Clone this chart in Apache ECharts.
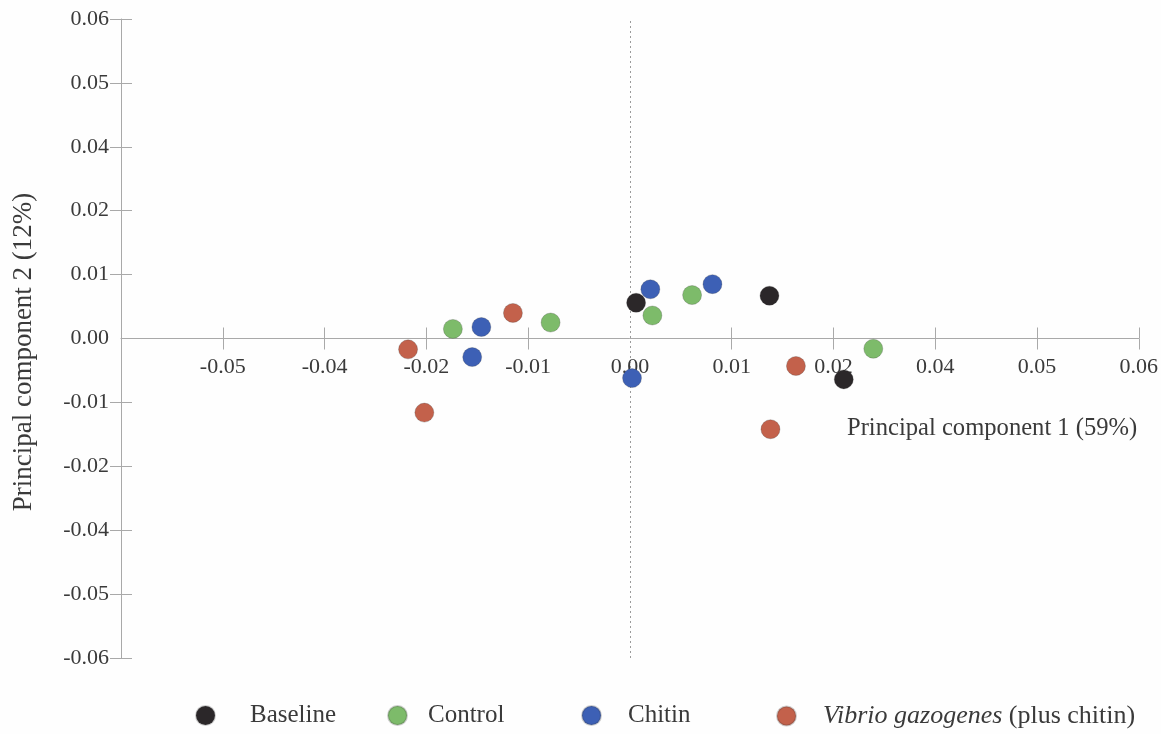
<!DOCTYPE html>
<html>
<head>
<meta charset="utf-8">
<script src="https://cdn.jsdelivr.net/npm/echarts@6/dist/echarts.min.js"></script>
<style>
  html, body { margin: 0; padding: 0; background: #fefefe; }
  #chart { width: 1161px; height: 734px; }
</style>
</head>
<body>
<div id="chart"></div>
<script>
// PCA scores, one point per sample, in axis units (one tick step = 0.01)
const baselinePts = [[0.0006, 0.0056], [0.0137, 0.0067], [0.0210, -0.0064]];
const controlPts = [[-0.0174, 0.0015], [-0.0078, 0.0025], [0.0022, 0.0036], [0.0061, 0.0068], [0.0239, -0.0016]];
const chitinPts = [[-0.0146, 0.0018], [-0.0155, -0.0029], [0.0020, 0.0077], [0.0081, 0.0085], [0.0002, -0.0062]];
const vibrioPts = [[-0.0218, -0.0017], [-0.0115, 0.0040], [-0.0202, -0.0116], [0.0163, -0.0043], [0.0138, -0.0142]];

const groupNames = ['Baseline', 'Control', 'Chitin', 'Vibrio gazogenes (plus chitin)'];
const groupColors = ['#2b2729', '#7dbb6a', '#3d60b5', '#c3614b'];

// printed tick labels, from the low end of each axis to the high end
const xTickLabels = ['', '-0.05', '-0.04', '-0.02', '-0.01', '0.00', '0.01', '0.02', '0.04', '0.05', '0.06'];
const yTickLabels = ['-0.06', '-0.05', '-0.04', '-0.02', '-0.01', '0.00', '0.01', '0.02', '0.04', '0.05', '0.06'];

const xTitle = 'Principal component 1 (59%)';
const yTitle = 'Principal component 2 (12%)';

const FONT = '"Liberation Serif", "DejaVu Serif", serif';
const AXIS_GRAY = '#a9a9a9';
const TEXT = '#3a3a3a';

const tickIndex = v => Math.round(v / 0.01) + 5;
const xFmt = v => xTickLabels[tickIndex(v)] || '';
const yFmt = v => yTickLabels[tickIndex(v)] || '';

const xTickVals = [-0.04, -0.03, -0.02, -0.01, 0.01, 0.02, 0.03, 0.04, 0.05];
const xLabelVals = [-0.04, -0.03, -0.02, -0.01, 0, 0.01, 0.02, 0.03, 0.04, 0.05];
const yTickVals = [-0.05, -0.04, -0.03, -0.02, -0.01, 0.01, 0.02, 0.03, 0.04, 0.05];
const yLabelVals = [-0.05, -0.04, -0.03, -0.02, -0.01, 0, 0.01, 0.02, 0.03, 0.04, 0.05];

const PLOT = { left: 121, right: 22, top: 19, bottom: 76 };
const plotH = 734 - PLOT.top - PLOT.bottom;

// Grid 0 holds the points and the vertical axis; grid 1 covers the upper half
// only, so its bottom edge is the PC2 = 0 line where the horizontal axis sits.
const grids = [
  { left: PLOT.left, right: PLOT.right, top: PLOT.top, bottom: PLOT.bottom },
  { left: PLOT.left, right: PLOT.right, top: PLOT.top, bottom: PLOT.bottom + plotH / 2 }
];

// the visible axes are doubled: one copy draws the outward half of each tick, the other the inward half
function xAxisDef(primary) {
  return {
    type: 'value', gridIndex: 1, min: -0.05, max: 0.05, interval: 0.01,
    position: 'bottom',
    axisLine: { show: primary, onZero: false, lineStyle: { color: AXIS_GRAY, width: 1 } },
    axisTick: { show: true, inside: !primary, length: 11, customValues: xTickVals, lineStyle: { color: AXIS_GRAY } },
    axisLabel: primary ? {
      show: true, margin: 18, customValues: xLabelVals, formatter: xFmt,
      fontFamily: FONT, fontSize: 22, color: TEXT
    } : { show: false },
    splitLine: { show: false }
  };
}

function yAxisDef(primary) {
  return {
    type: 'value', gridIndex: 0, min: -0.05, max: 0.05, interval: 0.01,
    position: 'left',
    axisLine: { show: primary, onZero: false, lineStyle: { color: AXIS_GRAY, width: 1 } },
    axisTick: { show: true, inside: !primary, length: 11, customValues: yTickVals, lineStyle: { color: AXIS_GRAY } },
    axisLabel: primary ? {
      show: true, margin: 12, customValues: yLabelVals, formatter: yFmt,
      fontFamily: FONT, fontSize: 22, color: TEXT
    } : { show: false },
    splitLine: { show: false }
  };
}

const hiddenAxis = gridIndex => ({
  type: 'value', gridIndex: gridIndex, min: -0.05, max: 0.05, show: false
});

const allSets = [baselinePts, controlPts, chitinPts, vibrioPts];
const series = allSets.map((pts, i) => ({
  name: groupNames[i],
  type: 'scatter',
  xAxisIndex: 0, yAxisIndex: 0,
  data: pts,
  symbol: 'circle',
  symbolSize: 19,
  itemStyle: { color: groupColors[i], borderColor: 'rgba(60,60,60,0.25)', borderWidth: 1, opacity: 1 },
  z: 5
}));

// dotted vertical reference line at PC1 = 0
series.push({
  type: 'line', data: [], xAxisIndex: 0, yAxisIndex: 0,
  markLine: {
    silent: true, symbol: ['none', 'none'], label: { show: false },
    lineStyle: { color: '#9a9a9a', type: [2, 3], width: 1 },
    data: [{ xAxis: 0 }]
  },
  z: 1
});

const legendLefts = [190, 382, 576, 771];
const legendPads = [30, 16, 22, 22];
const legendSizes = [25, 25, 25, 26];
const legends = groupNames.map((n, i) => ({
  data: [n],
  left: legendLefts[i],
  top: 698,
  icon: 'circle',
  itemWidth: 19, itemHeight: 19,
  itemGap: 0,
  selectedMode: false,
  formatter: name => name.startsWith('Vibrio gazogenes')
    ? '{i|Vibrio gazogenes} (plus chitin)' : name,
  textStyle: {
    fontFamily: FONT, fontSize: legendSizes[i], color: TEXT,
    padding: [0, 0, 0, legendPads[i]],
    rich: { i: { fontStyle: 'italic', fontFamily: FONT, fontSize: legendSizes[i], color: TEXT } }
  }
}));

const chart = echarts.init(document.getElementById('chart'), null, { renderer: 'canvas' });
chart.setOption({
  backgroundColor: '#fefefe',
  animation: false,
  grid: grids,
  xAxis: [hiddenAxis(0), xAxisDef(true), xAxisDef(false)],
  yAxis: [yAxisDef(true), yAxisDef(false), hiddenAxis(1)],
  legend: legends,
  graphic: [
    {
      type: 'text', left: 847, top: 416,
      style: { text: xTitle, fontFamily: FONT, fontSize: 24.6, fill: TEXT }
    },
    {
      type: 'text', x: 24, y: 352, rotation: Math.PI / 2,
      style: { text: yTitle, fontFamily: FONT, fontSize: 27, fill: TEXT, align: 'center', verticalAlign: 'middle' }
    }
  ],
  series: series
});
</script>
</body>
</html>
